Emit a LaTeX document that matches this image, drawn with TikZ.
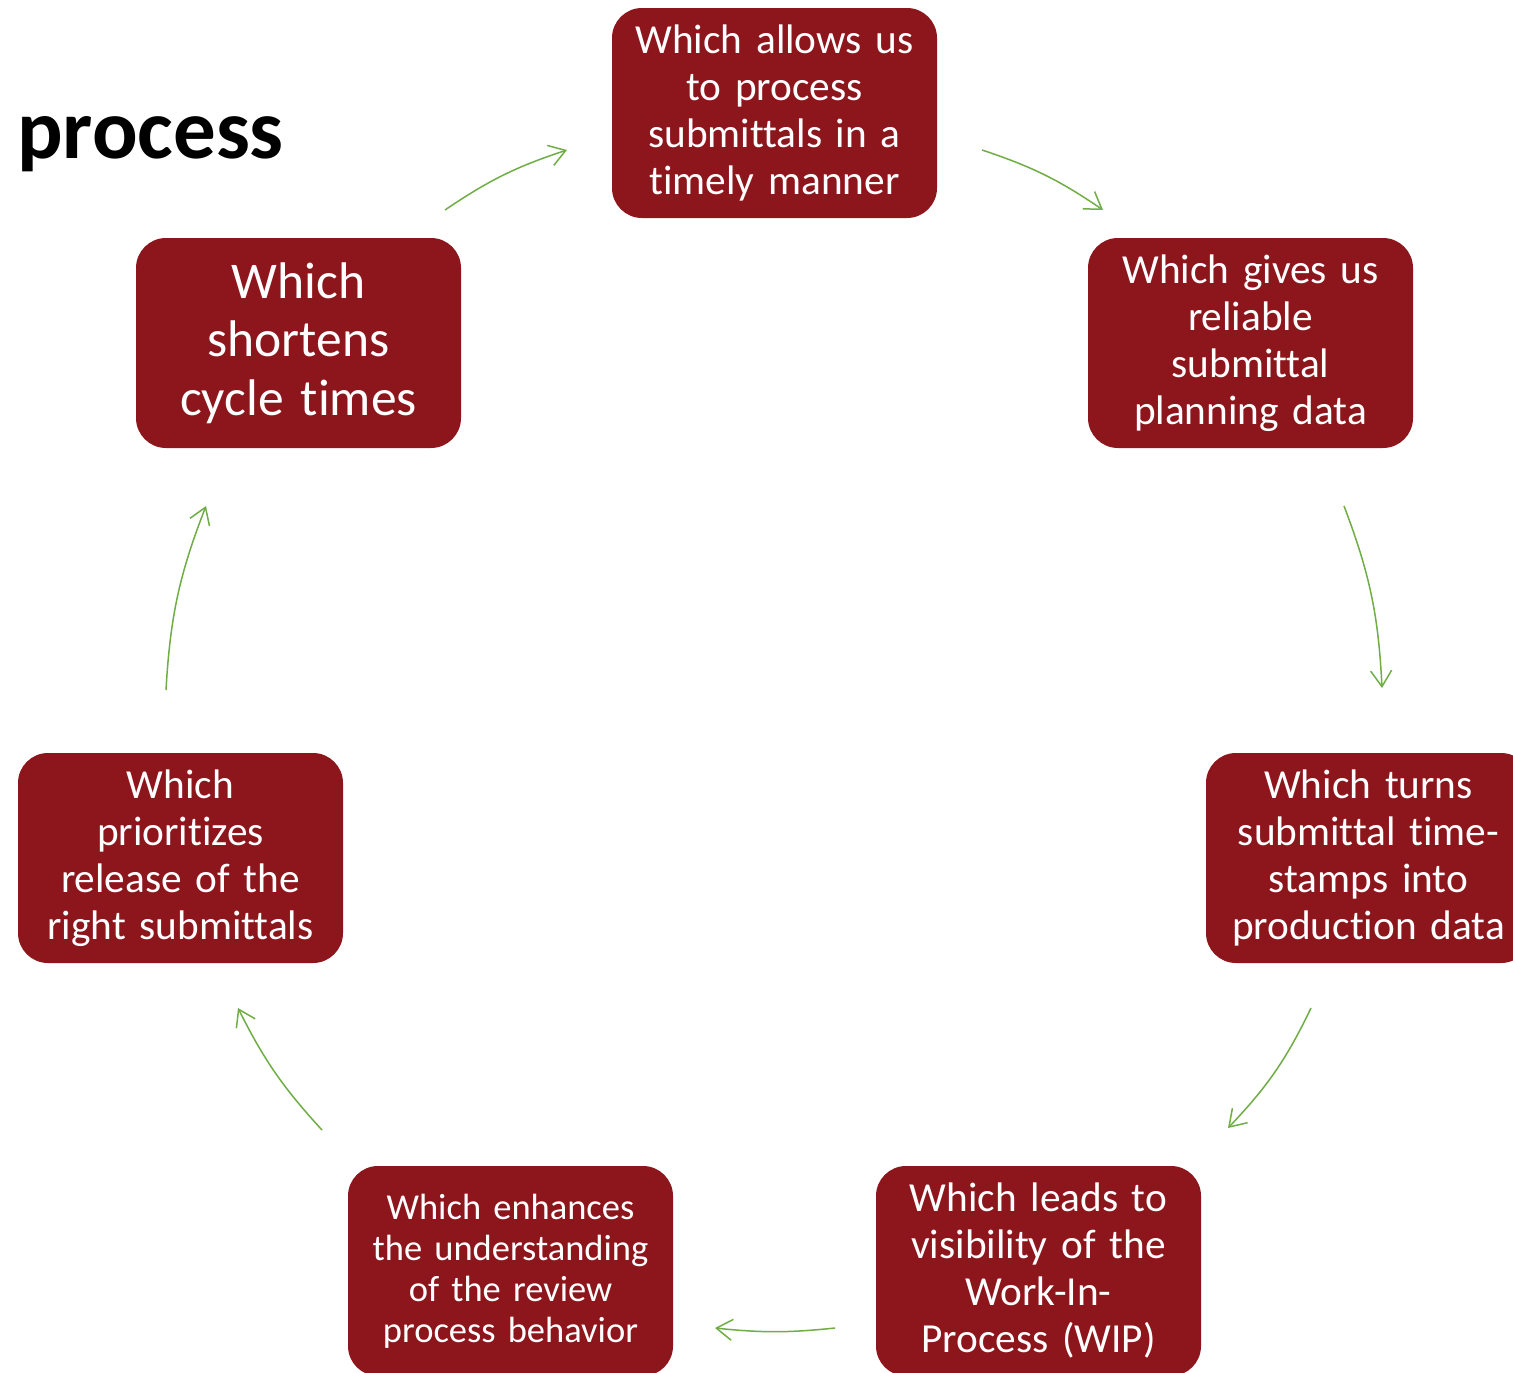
\documentclass[tikz,border=0pt]{standalone}
\usepackage{fontspec}
\setmainfont{Carlito}[Ligatures=NoCommon]
\usetikzlibrary{arrows.meta}
\definecolor{boxred}{RGB}{140,22,28}
\definecolor{arrgreen}{RGB}{112,173,71}
\begin{document}
\begin{tikzpicture}[x=1pt,y=-1pt,
  stepbox/.style={fill=boxred,rounded corners=30pt,minimum width=325pt,minimum height=210pt,
    inner sep=0pt,text=white,align=center,text width=322pt},
  normfont/.style={font=\fontsize{41.3}{47}\selectfont},
  bigfont/.style={font=\fontsize{51.5}{58.5}\selectfont},
  smallfont/.style={font=\fontsize{36.5}{41}\selectfont},
  arr/.style={draw=arrgreen,line width=1.5pt,-{Straight Barb[length=16pt,width=21pt,line width=1.5pt]}}]
\clip (0,0) rectangle (1513,1373);
\useasboundingbox (0,0) rectangle (1513,1373);
\fill[white] (0,0) rectangle (1513,1373);
\node[anchor=base west,font=\fontsize{85}{100}\bfseries,inner sep=0pt] (title) at (17,158) {process};
\node[stepbox,normfont] (b1) at (774.5,113) {Which allows us\\to process\\submittals in a\\timely manner};
\node[stepbox,normfont] (b2) at (1250.5,343) {Which gives us\\reliable\\submittal\\planning data};
\node[stepbox,normfont] (b3) at (1368.5,858) {Which turns\\submittal time-\\stamps into\\production data};
\node[stepbox,normfont] (b4) at (1038.5,1271) {Which leads to\\visibility of the\\Work-In-\\Process (WIP)};
\node[stepbox,smallfont] (b5) at (510.5,1271) {Which enhances\\the understanding\\of the review\\process behavior};
\node[stepbox,normfont] (b6) at (180.5,858) {Which\\prioritizes\\release of the\\right submittals};
\node[stepbox,bigfont] (b7) at (298.5,343) {Which\\shortens\\cycle times};
\coordinate (a1s) at (445,210); \coordinate (a1e) at (567,150);
\coordinate (a2s) at (982,150); \coordinate (a2e) at (1103,210);
\coordinate (a3s) at (1344,506); \coordinate (a3e) at (1382,688);
\coordinate (a4s) at (1311,1008); \coordinate (a4e) at (1228,1128);
\coordinate (a5s) at (835,1328); \coordinate (a5e) at (715,1328);
\coordinate (a6s) at (322,1130); \coordinate (a6e) at (238,1008);
\coordinate (a7s) at (166,690); \coordinate (a7e) at (206,506);
\draw[arr] (a1s) to[bend left=8] (a1e);
\draw[arr] (a2s) to[bend left=8] (a2e);
\draw[arr] (a3s) to[bend left=9] (a3e);
\draw[arr] (a4s) to[bend left=9] (a4e);
\draw[arr] (a5s) to[bend left=6] (a5e);
\draw[arr] (a6s) to[bend left=8] (a6e);
\draw[arr] (a7s) to[bend left=9] (a7e);
\end{tikzpicture}
\end{document}
